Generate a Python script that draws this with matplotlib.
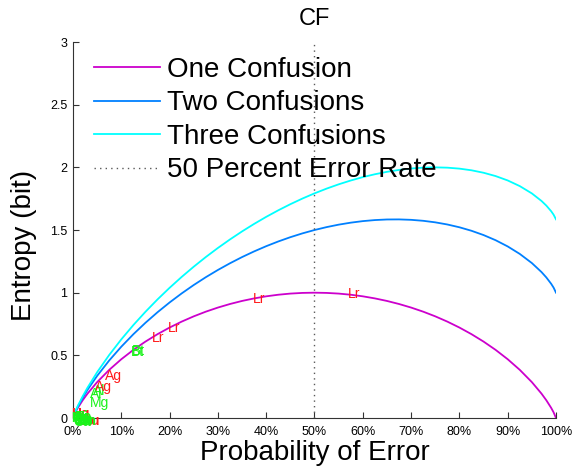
import matplotlib
matplotlib.use("Agg")
import matplotlib.pyplot as plt

# Probability of error (x) and entropy in bits for each curve
p_err = [0.0, 0.005, 0.01, 0.02, 0.03, 0.05, 0.075, 0.1, 0.125, 0.15, 0.175, 0.2, 0.225,
         0.25, 0.275, 0.3, 0.325, 0.35, 0.375, 0.4, 0.425, 0.45, 0.475, 0.5, 0.525, 0.55,
         0.575, 0.6, 0.625, 0.65, 0.675, 0.7, 0.725, 0.75, 0.775, 0.8, 0.825, 0.85, 0.875,
         0.9, 0.925, 0.95, 0.97, 0.98, 0.99, 0.995, 1.0]
one_conf = [0.0, 0.0454, 0.0808, 0.1414, 0.1944, 0.2864, 0.3843, 0.4690, 0.5436, 0.6098,
            0.6690, 0.7219, 0.7692, 0.8113, 0.8486, 0.8813, 0.9097, 0.9341, 0.9544, 0.9710,
            0.9837, 0.9928, 0.9982, 1.0, 0.9982, 0.9928, 0.9837, 0.9710, 0.9544, 0.9341,
            0.9097, 0.8813, 0.8486, 0.8113, 0.7692, 0.7219, 0.6690, 0.6098, 0.5436, 0.4690,
            0.3843, 0.2864, 0.1944, 0.1414, 0.0808, 0.0454, 0.0]
two_conf = [0.0, 0.0504, 0.0908, 0.1614, 0.2244, 0.3364, 0.4593, 0.5690, 0.6686, 0.7598,
            0.8440, 0.9219, 0.9942, 1.0613, 1.1236, 1.1813, 1.2347, 1.2841, 1.3294, 1.3710,
            1.4087, 1.4428, 1.4732, 1.5, 1.5232, 1.5428, 1.5587, 1.5710, 1.5794, 1.5841,
            1.5847, 1.5813, 1.5736, 1.5613, 1.5442, 1.5219, 1.4940, 1.4598, 1.4186, 1.3690,
            1.3093, 1.2364, 1.1644, 1.1214, 1.0708, 1.0404, 1.0]
three_conf = [0.0, 0.0533, 0.0966, 0.1731, 0.2419, 0.3656, 0.5032, 0.6275, 0.7417, 0.8475,
              0.9464, 1.0389, 1.1258, 1.2075, 1.2845, 1.3568, 1.4248, 1.4888, 1.5488, 1.6050,
              1.6573, 1.7060, 1.7511, 1.7925, 1.8303, 1.8645, 1.8951, 1.9220, 1.9450, 1.9643,
              1.9796, 1.9908, 1.9977, 2.0000, 1.9975, 1.9899, 1.9766, 1.9570, 1.9304, 1.8955,
              1.8504, 1.7921, 1.7318, 1.6947, 1.6499, 1.6224, 1.5850]

# Point labels (text, x, y, colour group); drawn in this order
lab_text = ["Hg", "Au", "Lr", "Lr", "Lr", "Lr", "Ag", "Al", "Ag", "Bt", "Bt", "Al", "Mg",
            "Na", "Cu", "Fe", "Zn", "Ca", "Mn", "Co", "Ni", "K"]
lab_red = [True, True, True, True, True, True, True, False, True, False, False, False, False,
           False, False, False, False, False, False, False, False, False]
lab_x = [-0.004, 0.018, 0.163, 0.197, 0.373, 0.569, 0.066, 0.042, 0.046, 0.119, 0.122,
         0.035, 0.035, -0.003, 0.0, 0.004, 0.008, 0.001, 0.006, -0.002, 0.003, 0.010]
lab_y = [0.03, -0.025, 0.641, 0.715, 0.953, 0.986, 0.335, 0.215, 0.250, 0.527, 0.535,
         0.190, 0.120, 0.0, -0.02, 0.005, -0.015, -0.03, -0.025, -0.01, 0.01, -0.005]

xticks = [0, 0.1, 0.2, 0.3, 0.4, 0.5, 0.6, 0.7, 0.8, 0.9, 1.0]
xtick_labels = ["0%", "10%", "20%", "30%", "40%", "50%", "60%", "70%", "80%", "90%", "100%"]
yticks = [0, 0.5, 1, 1.5, 2, 2.5, 3]
ytick_labels = ["0", "0.5", "1", "1.5", "2", "2.5", "3"]

plt.rcParams['font.family'] = ['Liberation Sans', 'DejaVu Sans']

fig = plt.figure(figsize=(5.83, 4.69), dpi=100)
ax = fig.add_axes([0.1252, 0.1087, 0.9537 - 0.1252, 0.9104 - 0.1087])

ax.plot(p_err, one_conf, color=(0.8, 0.0, 0.8), lw=1.3, label="One Confusion")
ax.plot(p_err, two_conf, color=(0.0, 0.5, 1.0), lw=1.3, label="Two Confusions")
ax.plot(p_err, three_conf, color=(0.0, 1.0, 1.0), lw=1.3, label="Three Confusions")
ax.plot([0.5, 0.5], [0, 3], color=(0.35, 0.35, 0.35), lw=1.0, ls=(0, (1, 3)),
        label="50 Percent Error Rate")

for t, x, y, r in zip(lab_text, lab_x, lab_y, lab_red):
    ax.text(x, y, t, color=(1.0, 0.1, 0.1) if r else (0.1, 0.95, 0.1),
            fontsize=10, ha='left', va='center',
            fontweight='bold' if (abs(y) < 0.07 and x < 0.03) else 'normal')

ax.set_xlim(0, 1)
ax.set_ylim(0, 3)
ax.set_xticks(xticks)
ax.set_xticklabels(xtick_labels, fontsize=9)
ax.set_yticks(yticks)
ax.set_yticklabels(ytick_labels, fontsize=9)
ax.tick_params(direction='in', length=4, width=0.8, color=(0.2, 0.2, 0.2))
ax.tick_params(axis='x', pad=6)
ax.tick_params(axis='y', pad=4)
for s in ['top', 'right']:
    ax.spines[s].set_visible(False)
for s in ['left', 'bottom']:
    ax.spines[s].set_color((0.2, 0.2, 0.2))
    ax.spines[s].set_linewidth(0.8)

ax.set_xlabel("Probability of Error", fontsize=20, labelpad=1)
ax.set_ylabel("Entropy (bit)", fontsize=20)
ax.yaxis.set_label_coords(-0.074, 0.46)
ax.set_title("CF", fontsize=17, pad=12)

leg = ax.legend(loc='upper left', bbox_to_anchor=(0.02, 0.99), frameon=False,
                fontsize=20, handlelength=2.4, handletextpad=0.25,
                labelspacing=0.27, borderaxespad=0)

fig.savefig("out.png", dpi=100)
